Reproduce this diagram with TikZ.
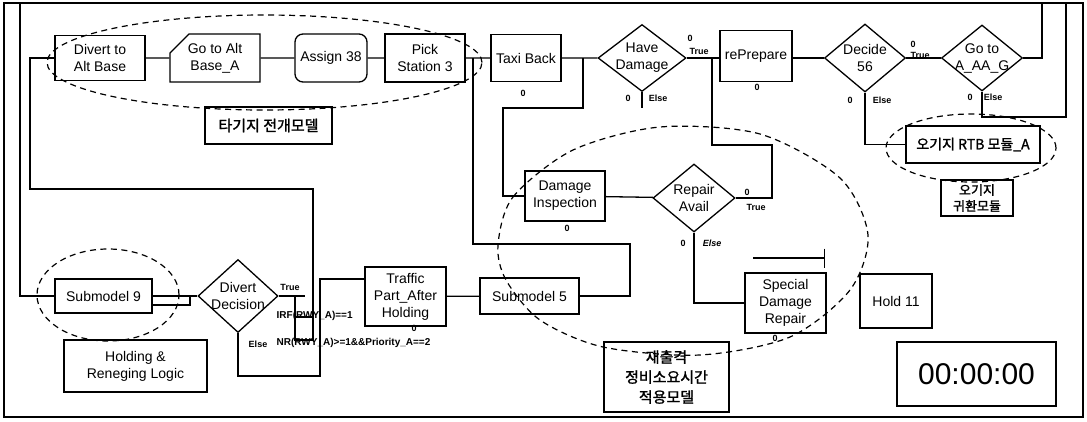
\documentclass[tikz,border=0pt]{standalone}
\usepackage{fontspec}
\setmainfont{Liberation Sans}
\newfontfamily\kor{Noto Sans CJK KR}[AutoFakeBold=1.5]
\usetikzlibrary{shapes.geometric,shapes.misc,arrows.meta}
\newcommand{\boxf}{\fontsize{14}{17}\selectfont}
\newcommand{\tagf}{\fontsize{9}{10}\selectfont\bfseries}
\newcommand{\korf}{\kor\bfseries\fontsize{15}{20}\selectfont}

\begin{document}
\begin{tikzpicture}[x=1pt,y=-1pt,line width=1.3pt,font=\boxf,
  blk/.style 2 args={draw,inner sep=0pt,align=center,minimum width=#1,minimum height=#2},
  dia/.style 2 args={draw,diamond,inner sep=-12pt,align=center,minimum width=#1,minimum height=#2},
  zone/.style={line width=1.2pt,dash pattern=on 6pt off 4.5pt},
  tag/.style={inner sep=0pt,font=\tagf}]
  \useasboundingbox (0,0) rectangle (1087,421);
  \draw (4,3) rectangle (1083,417);

  \node[blk={90}{45}] (divert) at (100,58) {Divert to\\Alt Base};
  \node[blk={90}{48},chamfered rectangle,chamfered rectangle corners=north west,
        chamfered rectangle xsep=10pt,chamfered rectangle ysep=9pt] (altbase) at (215,58) {Go to Alt\\Base\_A};
  \node[blk={72}{48},rounded corners=8pt] (assign) at (331,58) {Assign 38};
  \node[blk={80}{48}] (pick) at (425,58) {Pick\\Station 3};
  \node[blk={70}{47}] (taxi) at (526,58) {Taxi Back};
  \node[dia={88}{67}] (hasdmg) at (642,58) {Have\\Damage};
  \node[blk={72}{51}] (prep) at (756,56) {rePrepare};
  \node[dia={81}{68}] (dec56) at (865,58) {Decide\\56};
  \node[dia={81}{66}] (gotoa) at (982,58) {Go to\\A\_AA\_G};
  \node[blk={134}{37},font=\kor\bfseries\fontsize{14}{16}\selectfont] (rtb) at (973,144.5) {오기지 RTB 모듈\_A};
  \node[blk={72}{36},font=\kor\bfseries\fontsize{13}{16}\selectfont] (rtbmod) at (977,198) {오기지\\귀환모듈};
  \node[blk={127}{37},font=\korf] (depmod) at (268.5,125.5) {타기지 전개모델};

  \node[blk={80}{50}] (inspect) at (565,196) {Damage\\Inspection};
  \node[dia={82}{68}] (repair) at (694,198) {Repair\\Avail};
  \node[blk={81}{60}] (special) at (785.5,303) {Special\\Damage\\Repair};
  \node[blk={72}{54}] (hold) at (896,301) {Hold 11};
  \node[blk={159}{64},font=\fontsize{30}{32}\selectfont] (clock) at (976.5,374) {00:00:00};
  \node[blk={125}{70},font=\korf] (sortie) at (666.5,377) {재출격\\정비소요시간\\적용모델};

  \node[blk={97}{34}] (sub9) at (103.5,296) {Submodel 9};
  \node[dia={80}{73}] (divdec) at (238,296) {Divert\\Decision};
  \node[blk={143}{52}] (holding) at (135.5,366) {Holding \&\\Reneging Logic};
  \node[blk={81}{59}] (traffic) at (405.5,296.5) {Traffic\\Part\_After\\Holding};
  \node[blk={99}{36}] (sub5) at (529.5,296) {Submodel 5};

  \draw (divert) -- (altbase) -- (assign) -- (pick) -- (taxi) -- (hasdmg);
  \draw (hasdmg) -- (prep.west |- hasdmg);
  \draw (prep.east |- dec56) -- (dec56) -- (gotoa);
  \coordinate (j1) at (473,58);
  \draw (sub5.east) -| (630,244) -| (j1);
  \coordinate (j2) at (583,58);
  \draw (j2) |- (503,108) |- (inspect.west);
  \draw (inspect) -- (repair);
  \coordinate (j3) at (712,58);
  \draw (repair.east) -| (772,145) -| (j3);
  \draw (repair.south) |- (special.west);
  \coordinate (stub1) at (642,108);
  \draw (hasdmg.south) -- (stub1);
  \draw (dec56.south) |- (rtb.west);
  \coordinate (topA) at (1042,3);
  \coordinate (topB) at (1066,3);
  \draw (gotoa.east) -| (topA);
  \draw (gotoa.south) |- (1066,117) -- (topB) -- (20,3) |- (sub9.west);
  \draw (divert.west) -| (30,189) -| (313,340) -| (295,296);
  \draw (295,317) -- (313,317);
  \coordinate (tstub) at (305,296);
  \draw (divdec.east) -- (tstub);
  \draw (sub9) -- (divdec);
  \coordinate (s9b) at (152,305);
  \draw (s9b) -| (190,296);
  \coordinate (elsein) at (320,279);
  \draw (divdec.south) |- (320,376) -- (elsein) -- (elsein -| traffic.west);
  \draw (traffic) -- (sub5);
  \coordinate (qa) at (753,258);
  \coordinate (qb) at (825,258);
  \draw[-{Bar[width=19pt]}] (qa) -- (qb);

  \draw[zone] (264.5,62.5) ellipse [x radius=217.5pt,y radius=47.5pt];
  \draw[zone] (108,295) ellipse [x radius=71pt,y radius=46pt];
  \draw[zone] (971,148) ellipse [x radius=85pt,y radius=34pt];
  \draw[zone] plot[smooth cycle] coordinates {(498,245) (513,197) (573,150) (660,127) (760,134)
    (840,178) (868,235) (850,290) (790,337) (700,355) (603,347) (540,320) (506,280)};

  \node[tag] (taxi0) at (523,93) {0};
  \node[tag] (hd0) at (690,38) {0};
  \node[tag] (hdT) at (699,51) {True};
  \node[tag] (hdE0) at (628,98) {0};
  \node[tag] (hdE) at (658,98) {Else};
  \node[tag] (prep0) at (757,87) {0};
  \node[tag] (dc0) at (913,44) {0};
  \node[tag] (dcT) at (920,55) {True};
  \node[tag] (dcE0) at (850,100) {0};
  \node[tag] (dcE) at (882,100) {Else};
  \node[tag] (gaE0) at (970,97) {0};
  \node[tag] (gaE) at (993,97) {Else};
  \node[tag] (insp0) at (567,228) {0};
  \node[tag] (ra0) at (747,192) {0};
  \node[tag] (raT) at (756,207) {True};
  \node[tag] (raE0) at (683,243) {0};
  \node[tag] (raE) at (712,243) {\itshape Else};
  \node[tag] (tr0) at (414,328) {0};
  \node[tag] (sp0) at (775,338) {0};
  \node[tag] (ddT) at (290,287) {True};
  \node[tag] (ddE) at (258,344) {Else};
  \node[tag,anchor=west,font=\fontsize{10}{11}\selectfont\bfseries] (cond1) at (276,316) {IRF(RWY\_A)==1};
  \node[tag,anchor=west,font=\fontsize{10}{11}\selectfont\bfseries] (cond2) at (276,343) {NR(RWY\_A)>=1\&\&Priority\_A==2};
\end{tikzpicture}
\end{document}
